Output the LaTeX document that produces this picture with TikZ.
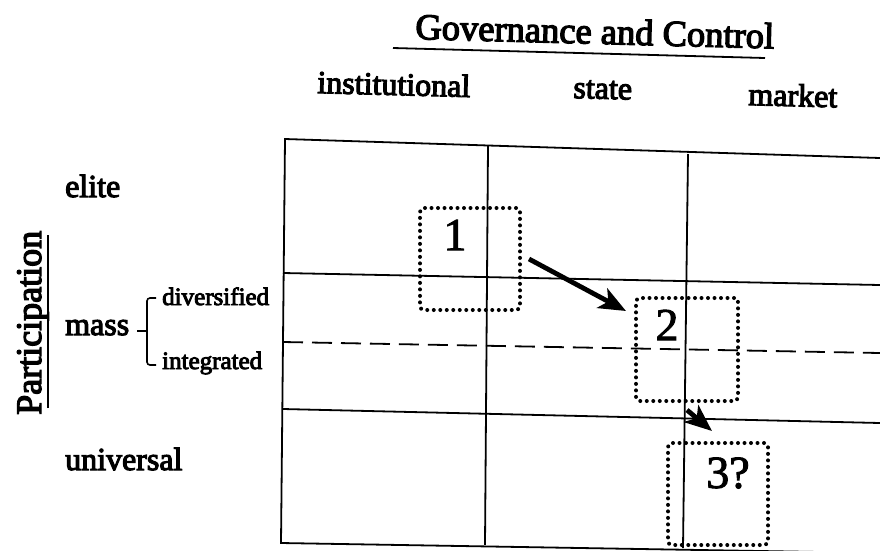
\documentclass[tikz,border=0pt]{standalone}
\usepackage{fontspec}
\setmainfont{Liberation Serif}
\newfontfamily\scanfont[FakeBold=3.5]{Liberation Serif}
\newfontfamily\numfont[FakeBold=2]{Liberation Serif}
\usetikzlibrary{arrows.meta}
\begin{document}
\begin{tikzpicture}[x=1pt,y=-1pt,
  grid/.style={line width=1.8pt},
  dotbox/.style={draw, line width=4pt, dash pattern=on 0pt off 6.5pt, line cap=round,
    rounded corners=4pt, inner sep=0pt},
  num/.style={font=\fontsize{46}{46}\selectfont\numfont, inner sep=0pt},
  lab/.style={font=\fontsize{32}{32}\selectfont\scanfont, anchor=base west, inner sep=0pt, rotate=-1.5},
  sublab/.style={font=\fontsize{25}{25}\selectfont\scanfont, anchor=base west, inner sep=0pt},
  flow/.style={line width=4.8pt, -{Stealth[length=27pt,width=22pt,inset=7pt]}}
]
\useasboundingbox (0,0) rectangle (880,550);

% title and axis labels
\node[font=\fontsize{36.5}{36.5}\selectfont\scanfont, anchor=base west, inner sep=0pt, rotate=-1.5] (title) at (415,39) {Governance and Control};
\draw[line width=1.8pt] (393,48) -- (765,58);
\node[lab] (inst) at (317,93) {institutional};
\node[lab] (state) at (573,98) {state};
\node[lab] (market) at (748,105) {market};

\node[font=\fontsize{36}{36}\selectfont\scanfont, anchor=base west, inner sep=0pt, rotate=90] (part) at (41,415) {Participation};
\draw[line width=1.8pt] (48,408) -- (48,235);

\node[lab, rotate=1.5] (elite) at (65,197) {elite};
\node[lab, rotate=1.5] (mass) at (65,335) {mass};
\node[lab, rotate=1.5] (univ) at (65,470) {universal};
\node[sublab] (div) at (162,305) {diversified};
\node[sublab] (integ) at (162,369) {integrated};
\draw[line width=1.6pt] (137,331) -- (147,331);
\draw[line width=1.6pt, rounded corners=3pt] (156,298) -- (147,298) -- (147,365) -- (156,365);

% grid
\coordinate (tl) at (285,139);
\coordinate (tr) at (880,158);
\coordinate (bl) at (281,543);
\coordinate (br) at (880,553);
\draw[grid] (tr) -- (tl) -- (bl) -- (br);
\draw[grid] (488,146) -- (485,545);
\draw[grid] (688,154) -- (683,548);
\draw[grid] (283,273) -- (880,285);
\draw[grid, dash pattern=on 20pt off 9pt] (283,342) -- (880,353);
\draw[grid] (283,409) -- (880,423);

% dotted boxes
\node[dotbox, minimum width=100pt, minimum height=102pt] (b1) at (470,259) {};
\node[dotbox, minimum width=102pt, minimum height=103pt] (b2) at (687,349.5) {};
\node[dotbox, minimum width=100pt, minimum height=102pt] (b3) at (718,494) {};
\node[num] (n1) at (455,235) {1};
\node[num] (n2) at (667,325) {2};
\node[num] (n3) at (728,473) {3?};

% arrows
\draw[flow] ([xshift=7pt]b1.east) -- ([xshift=-8pt,yshift=-15pt]b2.north west);
\draw[flow] ([yshift=-7pt]b2.south) -- ([xshift=-6pt,yshift=10pt]b3.north);
\end{tikzpicture}
\end{document}
